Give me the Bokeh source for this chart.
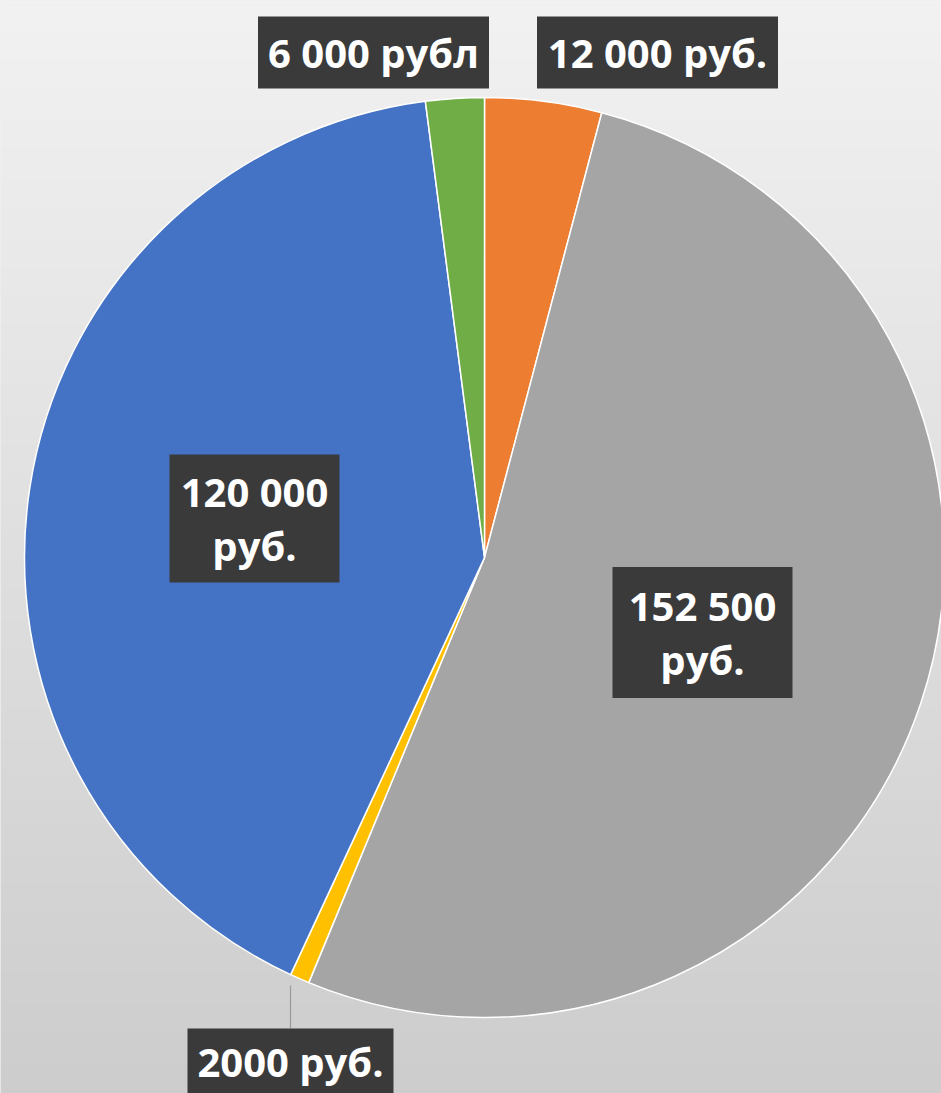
import numpy as np
from bokeh.plotting import figure
from bokeh.models import ColumnDataSource, Range1d
from bokeh.core.properties import value
from bokeh.embed import file_html
from bokeh.resources import INLINE

# ---- data (clockwise from 12 o'clock) ----
values = [12000, 152500, 2000, 120000, 6000]
labels = ["12 000 руб.", "152 500\nруб.", "2000 руб.", "120 000\nруб.", "6 000 рубл"]
colors = ["#ED7D31", "#A5A5A5", "#FFC000", "#4472C4", "#70AD47"]

# ---- layout (pixel units) ----
W, H = 941, 1093
CX, CY, R = 484, 536, 460
# label box centers / sizes, same order as values
box_x = [657, 702, 290, 254, 373]
box_y = [1041, 461, 29, 575, 1041]
box_w = [241, 180, 206, 170, 231]
box_h = [72, 131, 72, 128, 72]
LINE = 54

vals = np.array(values, dtype=float)
frac = vals / vals.sum()
cum = np.concatenate([[0.0], np.cumsum(frac)]) * 2 * np.pi
start = np.pi / 2 - cum[:-1]
end = np.pi / 2 - cum[1:]

src = ColumnDataSource(dict(start=start, end=end, color=colors))
box = ColumnDataSource(dict(x=box_x, y=box_y, w=box_w, h=box_h))

tx, ty, tt = [], [], []
for bx, by, lab in zip(box_x, box_y, labels):
    lines = lab.split("\n")
    n = len(lines)
    for i, ln in enumerate(lines):
        tx.append(bx)
        yy = by + (n - 1) / 2 * LINE - i * LINE
        if by < 60:
            yy += 3
        ty.append(yy)
        tt.append(ln)
txt = ColumnDataSource(dict(x=tx, y=ty, text=tt))

p = figure(width=W, height=H, output_backend="svg", toolbar_location=None,
           x_range=Range1d(0, W), y_range=Range1d(0, H), min_border=0)
p.axis.visible = False
p.grid.visible = False
p.outline_line_color = None
p.background_fill_color = "#e2e2e2"
p.border_fill_color = "#e2e2e2"

# vertical gradient background
n = 256
top = np.array([242, 242, 242], dtype=float)
bot = np.array([205, 205, 205], dtype=float)
t = np.linspace(0, 1, n)[:, None]
cols = (bot * (1 - t) + top * t).astype(np.uint32)  # row 0 = bottom
img = np.empty((n, 2), dtype=np.uint32)
rgba = (255 << 24) | (cols[:, 2] << 16) | (cols[:, 1] << 8) | cols[:, 0]
img[:, 0] = rgba
img[:, 1] = rgba
p.image_rgba(image=[img], x=0, y=0, dw=W, dh=H)

p.wedge(x=CX, y=CY, radius=R, start_angle="start", end_angle="end",
        direction="clock", fill_color="color", line_color="white",
        line_width=1.5, source=src)

# leader line for the small slice
p.line(x=[290, 290], y=[108, 65], line_color="#9a9a9a", line_width=1.2)

p.rect(x="x", y="y", width="w", height="h", fill_color="#3a3a3a",
       line_color=None, source=box)
p.text(x="x", y="y", text="text", text_align="center", text_baseline="middle",
       text_color="white", text_font=value("Open Sans"), text_font_style="bold",
       text_font_size="40px", source=txt)

open("out.html", "w").write(file_html(p, INLINE))
